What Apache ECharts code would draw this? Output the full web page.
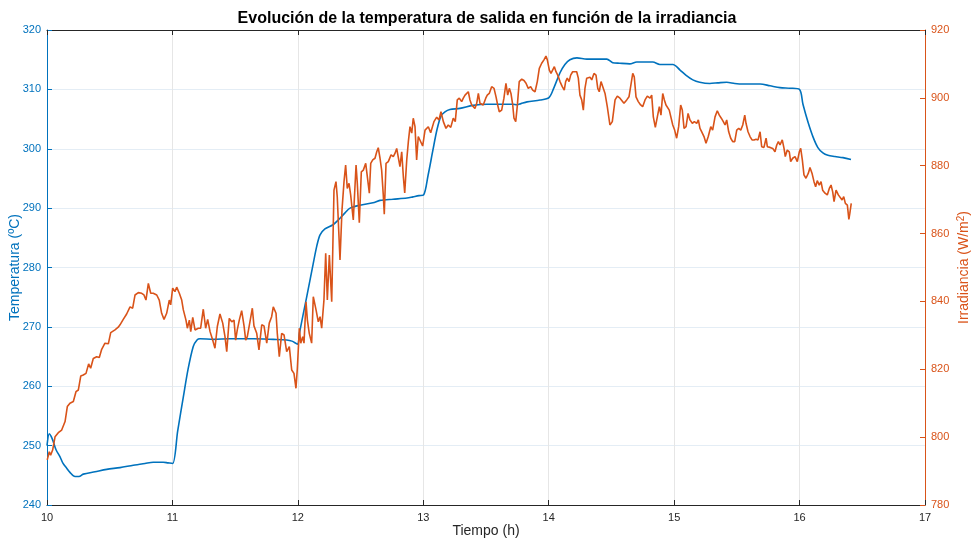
<!DOCTYPE html>
<html>
<head>
<meta charset="utf-8">
<script src="https://cdn.jsdelivr.net/npm/echarts@6/dist/echarts.min.js"></script>
<style>html,body{margin:0;padding:0;background:#fff}#c{width:974px;height:542px}</style>
</head>
<body>
<div id="c"></div>
<script>
var titleText = 'Evolución de la temperatura de salida en función de la irradiancia';
var xTicks = [10, 11, 12, 13, 14, 15, 16, 17];
var tempTicks = [240, 250, 260, 270, 280, 290, 300, 310, 320];
var irrTicks = [780, 800, 820, 840, 860, 880, 900, 920];

var tempTime = [10.000,10.018,10.032,10.048,10.072,10.104,10.128,10.157,10.183,10.223,10.255,10.289,10.383,10.476,10.582,10.688,10.781,10.847,10.927,10.964,11.002,11.042,11.087,11.124,11.166,11.196,11.220,11.326,11.459,11.645,11.804,11.911,11.953,11.997,12.013,12.071,12.121,12.153,12.177,12.216,12.280,12.336,12.376,12.416,12.495,12.599,12.655,12.759,12.870,12.918,12.966,13.002,13.038,13.077,13.109,13.141,13.173,13.212,13.292,13.396,13.508,13.612,13.715,13.747,13.779,13.827,13.931,14.002,14.042,14.090,14.129,14.169,14.225,14.304,14.407,14.463,14.510,14.566,14.646,14.702,14.766,14.830,14.886,14.990,15.045,15.093,15.149,15.204,15.284,15.348,15.419,15.483,15.547,15.685,15.765,15.844,15.924,15.999,16.027,16.067,16.107,16.146,16.186,16.226,16.282,16.346,16.410];
var tempValues = [250.0,252.0,251.6,250.8,249.3,248.1,247.0,246.2,245.5,244.8,244.8,245.2,245.6,246.0,246.3,246.7,247.0,247.2,247.2,247.1,247.0,252.5,258.2,262.8,266.7,267.8,268.0,267.9,268.0,268.0,267.9,267.8,267.6,267.1,269.0,275.1,280.5,283.8,285.5,286.5,287.2,288.3,289.2,290.0,290.5,290.9,291.3,291.5,291.7,291.9,292.1,292.2,295.5,299.8,303.2,305.5,306.2,306.6,306.8,307.3,307.5,307.5,307.5,307.4,307.6,307.9,308.2,308.6,310.3,312.8,314.2,315.0,315.3,315.1,315.1,315.1,314.5,314.4,314.3,314.6,314.6,314.6,314.2,314.2,313.3,312.4,311.6,311.2,311.0,311.1,311.2,311.0,310.9,310.9,310.6,310.3,310.2,310.0,307.5,304.5,302.0,300.2,299.3,298.9,298.7,298.5,298.2];

var irrTime = [10.002,10.018,10.029,10.045,10.064,10.090,10.117,10.144,10.162,10.183,10.210,10.231,10.250,10.269,10.289,10.311,10.332,10.348,10.369,10.396,10.417,10.436,10.462,10.489,10.508,10.542,10.568,10.582,10.608,10.635,10.662,10.683,10.702,10.728,10.755,10.773,10.789,10.808,10.827,10.847,10.875,10.895,10.914,10.933,10.954,10.975,10.986,11.002,11.020,11.034,11.055,11.074,11.087,11.108,11.119,11.135,11.146,11.162,11.180,11.206,11.225,11.246,11.265,11.281,11.300,11.321,11.339,11.358,11.379,11.401,11.419,11.433,11.453,11.473,11.491,11.504,11.517,11.533,11.552,11.571,11.584,11.597,11.618,11.637,11.650,11.672,11.690,11.712,11.730,11.752,11.772,11.791,11.804,11.826,11.836,11.852,11.871,11.890,11.911,11.932,11.951,11.969,11.985,11.996,12.012,12.023,12.039,12.049,12.065,12.076,12.091,12.110,12.123,12.145,12.163,12.177,12.190,12.208,12.222,12.235,12.251,12.270,12.288,12.304,12.314,12.336,12.352,12.368,12.381,12.394,12.408,12.421,12.442,12.464,12.474,12.490,12.506,12.522,12.541,12.554,12.570,12.581,12.597,12.615,12.629,12.641,12.655,12.668,12.681,12.689,12.703,12.721,12.743,12.761,12.775,12.788,12.801,12.814,12.828,12.841,12.852,12.868,12.881,12.894,12.908,12.920,12.934,12.947,12.960,12.974,12.995,13.014,13.040,13.059,13.085,13.107,13.125,13.141,13.160,13.181,13.199,13.219,13.239,13.255,13.271,13.287,13.306,13.319,13.333,13.346,13.359,13.372,13.386,13.399,13.412,13.426,13.439,13.452,13.466,13.478,13.498,13.510,13.526,13.545,13.564,13.580,13.593,13.606,13.625,13.643,13.659,13.673,13.686,13.699,13.713,13.723,13.737,13.749,13.765,13.785,13.803,13.819,13.837,13.856,13.872,13.891,13.909,13.925,13.944,13.962,13.978,13.989,14.005,14.018,14.032,14.045,14.058,14.072,14.090,14.108,14.124,14.135,14.148,14.162,14.175,14.191,14.204,14.223,14.236,14.249,14.263,14.276,14.289,14.303,14.316,14.329,14.343,14.361,14.377,14.391,14.403,14.417,14.430,14.449,14.467,14.488,14.507,14.529,14.547,14.568,14.582,14.600,14.622,14.640,14.654,14.670,14.682,14.696,14.714,14.733,14.749,14.768,14.786,14.808,14.821,14.834,14.850,14.866,14.882,14.895,14.909,14.922,14.935,14.949,14.961,14.975,14.989,15.004,15.020,15.036,15.052,15.065,15.079,15.095,15.111,15.126,15.145,15.161,15.180,15.193,15.206,15.220,15.238,15.254,15.272,15.292,15.307,15.326,15.344,15.360,15.376,15.392,15.406,15.419,15.435,15.451,15.467,15.483,15.499,15.515,15.531,15.547,15.563,15.573,15.589,15.605,15.621,15.637,15.653,15.669,15.685,15.698,15.716,15.733,15.743,15.765,15.786,15.804,15.818,15.831,15.844,15.862,15.876,15.886,15.902,15.918,15.929,15.945,15.964,15.982,15.998,16.009,16.022,16.035,16.051,16.070,16.083,16.099,16.115,16.128,16.141,16.157,16.171,16.184,16.203,16.221,16.237,16.251,16.264,16.275,16.291,16.309,16.323,16.339,16.352,16.365,16.381,16.393,16.401,16.412];
var irrValues = [793.3,795.7,794.7,796.2,800.1,801.3,802.1,804.6,809.0,810.0,810.5,813.4,813.9,818.0,818.3,818.8,821.6,820.3,823.2,823.7,823.5,825.9,827.7,827.5,830.8,831.6,832.4,833.1,834.7,836.3,838.4,838.0,841.9,842.6,842.4,841.9,840.4,845.3,842.4,842.4,841.9,840.4,836.5,834.7,836.5,840.4,839.0,843.9,842.9,844.2,842.4,840.4,837.5,834.5,832.1,834.5,831.1,835.3,831.6,832.1,832.1,837.7,832.1,834.7,831.1,828.6,826.2,832.6,836.3,833.6,829.6,825.2,835.0,834.0,834.5,828.6,831.6,834.5,837.3,832.8,828.6,829.6,834.0,838.0,832.8,830.6,825.7,833.1,832.8,827.7,833.6,835.5,838.4,836.5,830.6,823.7,830.6,830.1,825.2,826.7,819.8,818.8,814.4,820.3,832.1,827.7,829.6,827.7,839.9,834.5,830.6,827.7,841.4,837.5,834.0,835.5,832.1,840.4,854.2,840.4,853.7,839.9,872.8,875.3,870.9,852.2,867.0,875.3,880.2,873.3,874.8,871.4,864.0,880.2,874.8,863.2,878.2,878.7,880.7,880.7,871.9,880.7,881.7,882.2,884.1,885.3,882.2,878.7,871.4,865.7,880.7,881.2,883.2,882.7,883.7,885.1,884.6,879.7,884.1,876.8,872.0,881.7,887.1,891.5,889.6,894.0,891.5,881.7,888.6,888.6,885.8,890.5,891.5,889.7,893.0,894.3,893.5,895.9,893.0,891.0,892.0,891.3,894.0,893.0,899.4,899.9,898.9,899.9,900.8,901.3,901.8,899.4,897.9,898.4,896.9,898.4,901.3,898.4,898.9,897.9,899.9,900.8,901.3,903.3,902.8,900.3,897.9,895.9,896.4,899.9,904.3,900.8,902.8,901.3,897.9,894.0,893.0,897.4,904.8,905.5,905.1,904.3,902.8,903.3,902.3,901.8,904.8,908.7,910.2,911.2,912.3,911.2,908.2,907.2,907.7,909.2,907.7,906.7,904.8,903.3,902.3,904.8,905.8,904.8,906.7,907.7,907.2,907.7,905.8,900.8,899.4,896.4,902.8,905.8,905.3,906.1,905.3,907.2,906.7,902.8,901.8,904.8,904.8,901.3,897.4,892.0,893.0,899.4,900.5,899.9,900.3,898.4,899.4,900.3,900.8,907.2,906.2,900.3,898.9,897.9,897.4,899.4,900.5,899.9,900.8,894.4,891.3,894.4,897.4,894.9,901.3,899.4,897.9,898.4,896.4,895.9,892.0,890.5,888.1,891.5,897.9,896.4,891.0,891.5,895.4,893.5,892.5,893.0,892.5,893.5,891.0,890.0,888.6,886.6,888.6,891.5,890.5,894.4,896.2,894.9,894.0,893.0,892.0,893.5,890.0,888.1,887.1,887.1,890.5,891.0,890.5,892.0,894.9,892.5,890.0,888.6,887.6,887.6,887.8,887.6,890.0,885.6,885.4,888.1,885.6,885.4,885.1,884.1,886.1,887.1,886.1,887.6,885.1,882.7,884.6,884.1,881.2,882.2,882.7,881.2,884.1,885.1,881.7,877.3,876.3,877.8,879.5,877.8,875.3,873.8,875.6,874.3,875.3,872.8,871.9,871.4,873.3,874.3,872.3,869.4,872.8,871.4,871.9,869.9,870.9,868.9,868.4,864.2,866.0,868.9];

var BLUE = '#0072BD', ORANGE = '#D95319', AX = '#262626';
var FONT = '"Liberation Sans", Arial, Helvetica, sans-serif';

function zip(a, b) { var r = []; for (var i = 0; i < a.length; i++) r.push([a[i], b[i]]); return r; }

var chart = echarts.init(document.getElementById('c'), null, {renderer: 'canvas'});
chart.setOption({
  animation: false,
  backgroundColor: '#fff',
  title: {
    text: titleText, left: 'center', top: 6,
    textStyle: {fontFamily: FONT, fontSize: 16, fontWeight: 'bold', color: '#000'}
  },
  grid: {left: 47, right: 49, top: 30, bottom: 37, containLabel: false, outerBoundsMode: 'none'},
  xAxis: [{
    type: 'value', min: xTicks[0], max: xTicks[xTicks.length - 1], interval: 1,
    name: 'Tiempo (h)', nameLocation: 'middle', nameGap: 19, nameMoveOverlap: false,
    nameTextStyle: {fontFamily: FONT, fontSize: 14, color: AX},
    axisLine: {show: true, lineStyle: {color: AX, width: 1}},
    axisTick: {show: true, inside: true, length: 5, lineStyle: {color: AX}},
    axisLabel: {fontFamily: FONT, fontSize: 11, color: AX, margin: 7},
    splitLine: {show: true, lineStyle: {color: '#e6e6e6', width: 1}}
  }, {
    type: 'value', position: 'top', min: xTicks[0], max: xTicks[xTicks.length - 1], interval: 1,
    axisLine: {show: true, lineStyle: {color: AX, width: 1}},
    axisTick: {show: true, inside: true, length: 5, lineStyle: {color: AX}},
    axisLabel: {show: false}, splitLine: {show: false}
  }],
  yAxis: [{
    type: 'value', position: 'left', min: tempTicks[0], max: tempTicks[tempTicks.length - 1], interval: 10,
    name: 'Temperatura (ºC)', nameLocation: 'middle', nameGap: 25, nameRotate: 90, nameMoveOverlap: false,
    nameTextStyle: {fontFamily: FONT, fontSize: 14, color: BLUE},
    axisLine: {show: true, lineStyle: {color: BLUE, width: 1}},
    axisTick: {show: true, inside: true, length: 5, lineStyle: {color: BLUE}},
    axisLabel: {fontFamily: FONT, fontSize: 11, color: BLUE, margin: 6},
    splitLine: {show: true, lineStyle: {color: '#e4edf5', width: 1}}
  }, {
    type: 'value', position: 'right', min: irrTicks[0], max: irrTicks[irrTicks.length - 1], interval: 20,
    name: 'Irradiancia (W/m{sup|2})', nameLocation: 'middle', nameGap: 31, nameRotate: 90, nameMoveOverlap: false,
    nameTextStyle: {fontFamily: FONT, fontSize: 14, color: ORANGE,
      rich: {sup: {fontFamily: FONT, fontSize: 10, color: ORANGE, verticalAlign: 'top', padding: [0, 0, 7, 0]}}},
    axisLine: {show: true, lineStyle: {color: ORANGE, width: 1}},
    axisTick: {show: true, inside: true, length: 5, lineStyle: {color: ORANGE}},
    axisLabel: {fontFamily: FONT, fontSize: 11, color: ORANGE, margin: 6},
    splitLine: {show: false}
  }],
  series: [{
    name: 'Temperatura', type: 'line', yAxisIndex: 0, xAxisIndex: 0,
    data: zip(tempTime, tempValues), showSymbol: false, smooth: 0.3,
    lineStyle: {color: BLUE, width: 1.6}, z: 3
  }, {
    name: 'Irradiancia', type: 'line', yAxisIndex: 1, xAxisIndex: 0,
    data: zip(irrTime, irrValues), showSymbol: false,
    lineStyle: {color: ORANGE, width: 1.6}, z: 4
  }]
});
</script>
</body>
</html>
